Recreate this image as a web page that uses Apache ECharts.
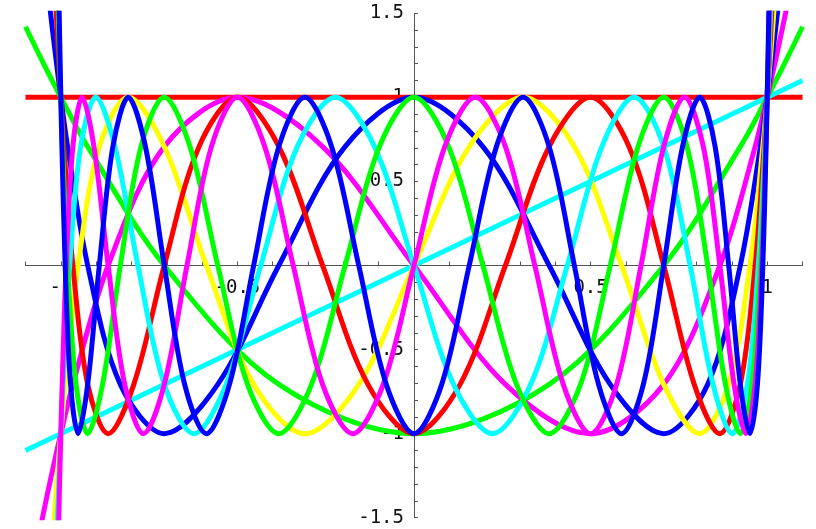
<!DOCTYPE html>
<html>
<head>
<meta charset="utf-8">
<script src="https://cdn.jsdelivr.net/npm/echarts@6/dist/echarts.min.js"></script>
<style>
  html, body { margin: 0; padding: 0; background: #fff; }
  #chart { width: 816px; height: 529px; }
</style>
</head>
<body>
<div id="chart"></div>
<script>
// curve points, T0 .. T10 (x ascending)
const t0x = [-1.1, 1.1];
const t0y = [1, 1];

const t1x = [-1.1, 1.1];
const t1y = [-1.1, 1.1];

const t2x = [-1.1, -1.05, -1, -0.9239, -0.7071, -0.3827, 0, 0.3827, 0.7071, 0.9239, 1, 1.05, 1.1];
const t2y = [1.42, 1.205, 1, 0.707, 0, -0.707, -1, -0.707, 0, 0.707, 1, 1.205, 1.42];

const t3x = [-1.0979, -1.0519, -1.0216,
  -1, -0.9659, -0.866, -0.7071, -0.5, -0.2588, 0, 0.2588, 0.5, 0.7071, 0.866, 0.9659, 1,
  1.0216, 1.0519, 1.0979];
const t3y = [-2, -1.5, -1.2,
  -1, -0.707, 0, 0.707, 1, 0.707, 0, -0.707, -1, -0.707, 0, 0.707, 1,
  1.2, 1.5, 2];

const t4x = [-1.0547, -1.0291, -1.0121,
  -1, -0.9808, -0.9239, -0.8315, -0.7071, -0.5556, -0.3827, -0.1951, 0,
  0.1951, 0.3827, 0.5556, 0.7071, 0.8315, 0.9239, 0.9808, 1,
  1.0121, 1.0291, 1.0547];
const t4y = [2, 1.5, 1.2,
  1, 0.707, 0, -0.707, -1, -0.707, 0, 0.707, 1,
  0.707, 0, -0.707, -1, -0.707, 0, 0.707, 1,
  1.2, 1.5, 2];

const t5x = [-1.0349, -1.0186, -1.0078,
  -1, -0.9877, -0.9511, -0.891, -0.809, -0.7071, -0.5878, -0.454, -0.309, -0.1564, 0,
  0.1564, 0.309, 0.454, 0.5878, 0.7071, 0.809, 0.891, 0.9511, 0.9877, 1,
  1.0078, 1.0186, 1.0349];
const t5y = [-2, -1.5, -1.2,
  -1, -0.707, 0, 0.707, 1, 0.707, 0, -0.707, -1, -0.707, 0,
  0.707, 1, 0.707, 0, -0.707, -1, -0.707, 0, 0.707, 1,
  1.2, 1.5, 2];

const t6x = [-1.0242, -1.0129, -1.0054,
  -1, -0.9914, -0.9659, -0.9239, -0.866, -0.7934, -0.7071, -0.6088, -0.5, -0.3827, -0.2588, -0.1305, 0,
  0.1305, 0.2588, 0.3827, 0.5, 0.6088, 0.7071, 0.7934, 0.866, 0.9239, 0.9659, 0.9914, 1,
  1.0054, 1.0129, 1.0242];
const t6y = [2, 1.5, 1.2,
  1, 0.707, 0, -0.707, -1, -0.707, 0, 0.707, 1, 0.707, 0, -0.707, -1,
  -0.707, 0, 0.707, 1, 0.707, 0, -0.707, -1, -0.707, 0, 0.707, 1,
  1.2, 1.5, 2];

const t7x = [-1.0178, -1.0095, -1.004,
  -1, -0.9937, -0.9749, -0.9439, -0.901, -0.8467, -0.7818, -0.7071, -0.6235, -0.532, -0.4339, -0.3303, -0.2225, -0.112, 0,
  0.112, 0.2225, 0.3303, 0.4339, 0.532, 0.6235, 0.7071, 0.7818, 0.8467, 0.901, 0.9439, 0.9749, 0.9937, 1,
  1.004, 1.0095, 1.0178];
const t7y = [-2, -1.5, -1.2,
  -1, -0.707, 0, 0.707, 1, 0.707, 0, -0.707, -1, -0.707, 0, 0.707, 1, 0.707, 0,
  -0.707, -1, -0.707, 0, 0.707, 1, 0.707, 0, -0.707, -1, -0.707, 0, 0.707, 1,
  1.2, 1.5, 2];

const t8x = [-1.0136, -1.0072, -1.003,
  -1, -0.9952, -0.9808, -0.9569, -0.9239, -0.8819, -0.8315, -0.773, -0.7071, -0.6344, -0.5556, -0.4714, -0.3827, -0.2903, -0.1951, -0.098, 0,
  0.098, 0.1951, 0.2903, 0.3827, 0.4714, 0.5556, 0.6344, 0.7071, 0.773, 0.8315, 0.8819, 0.9239, 0.9569, 0.9808, 0.9952, 1,
  1.003, 1.0072, 1.0136];
const t8y = [2, 1.5, 1.2,
  1, 0.707, 0, -0.707, -1, -0.707, 0, 0.707, 1, 0.707, 0, -0.707, -1, -0.707, 0, 0.707, 1,
  0.707, 0, -0.707, -1, -0.707, 0, 0.707, 1, 0.707, 0, -0.707, -1, -0.707, 0, 0.707, 1,
  1.2, 1.5, 2];

const t9x = [-1.0107, -1.0057, -1.0024,
  -1, -0.9962, -0.9848, -0.9659, -0.9397, -0.9063, -0.866, -0.8192, -0.766, -0.7071, -0.6428, -0.5736, -0.5, -0.4226, -0.342, -0.2588, -0.1736, -0.0872, 0,
  0.0872, 0.1736, 0.2588, 0.342, 0.4226, 0.5, 0.5736, 0.6428, 0.7071, 0.766, 0.8192, 0.866, 0.9063, 0.9397, 0.9659, 0.9848, 0.9962, 1,
  1.0024, 1.0057, 1.0107];
const t9y = [-2, -1.5, -1.2,
  -1, -0.707, 0, 0.707, 1, 0.707, 0, -0.707, -1, -0.707, 0, 0.707, 1, 0.707, 0, -0.707, -1, -0.707, 0,
  0.707, 1, 0.707, 0, -0.707, -1, -0.707, 0, 0.707, 1, 0.707, 0, -0.707, -1, -0.707, 0, 0.707, 1,
  1.2, 1.5, 2];

const t10x = [-1.0087, -1.0046, -1.0019,
  -1, -0.9969, -0.9877, -0.9724, -0.9511, -0.9239, -0.891, -0.8526, -0.809, -0.7604, -0.7071, -0.6494, -0.5878, -0.5225, -0.454, -0.3827, -0.309, -0.2334, -0.1564, -0.0785, 0,
  0.0785, 0.1564, 0.2334, 0.309, 0.3827, 0.454, 0.5225, 0.5878, 0.6494, 0.7071, 0.7604, 0.809, 0.8526, 0.891, 0.9239, 0.9511, 0.9724, 0.9877, 0.9969, 1,
  1.0019, 1.0046, 1.0087];
const t10y = [2, 1.5, 1.2,
  1, 0.707, 0, -0.707, -1, -0.707, 0, 0.707, 1, 0.707, 0, -0.707, -1, -0.707, 0, 0.707, 1, 0.707, 0, -0.707, -1,
  -0.707, 0, 0.707, 1, 0.707, 0, -0.707, -1, -0.707, 0, 0.707, 1, 0.707, 0, -0.707, -1, -0.707, 0, 0.707, 1,
  1.2, 1.5, 2];

const curveColors = ['#ff0000', '#00ffff', '#00ff00', '#ff00ff', '#0000ff', '#ffff00'];
const curves = [
  [t0x, t0y], [t1x, t1y], [t2x, t2y], [t3x, t3y], [t4x, t4y], [t5x, t5y],
  [t6x, t6y], [t7x, t7y], [t8x, t8y], [t9x, t9y], [t10x, t10y]
];

function toPoints(xs, ys) {
  return xs.map((x, i) => [x, ys[i]]);
}

// labels only at multiples of 0.5, never at 0
function halfLabel(v) {
  const r = Math.round(v * 10);
  if (r === 0 || r % 5 !== 0) return '';
  return String(r / 10);
}

const gridLeft = 25.5, gridRight = 13.5, gridTop = 13.3, gridBottom = 11.3;
const gridW = 816 - gridLeft - gridRight;
const gridH = 529 - gridTop - gridBottom;

const axisColor = '#555';
const labelStyle = {
  fontFamily: 'DejaVu Sans Mono',
  fontSize: 19,
  color: '#111',
  interval: 0,
  formatter: halfLabel
};

const series = curves.map((c, i) => ({
  type: 'line',
  data: toPoints(c[0], c[1]),
  symbol: 'none',
  showSymbol: false,
  smooth: 0.33,
  clip: true,
  silent: true,
  lineStyle: {width: 5, color: curveColors[i % 6]}
}));

// axes crossing in the middle: shift them in from the grid edges
const option = {
  animation: false,
  backgroundColor: '#fff',
  grid: {left: gridLeft, right: gridRight, top: gridTop, bottom: gridBottom, outerBoundsMode: 'none'},
  xAxis: {
    type: 'value',
    position: 'bottom',
    offset: -gridH / 2,
    min: -1.1,
    max: 1.1,
    interval: 0.1,
    axisLine: {onZero: false, lineStyle: {color: axisColor, width: 1}},
    axisTick: {show: true, inside: true, length: 4, lineStyle: {color: axisColor}},
    axisLabel: Object.assign({margin: 13, showMinLabel: true, showMaxLabel: true}, labelStyle),
    splitLine: {show: false}
  },
  yAxis: {
    type: 'value',
    position: 'left',
    offset: -gridW / 2,
    min: -1.5,
    max: 1.5,
    interval: 0.1,
    axisLine: {show: true, onZero: false, lineStyle: {color: axisColor, width: 1}},
    axisTick: {show: true, inside: true, length: 4, lineStyle: {color: axisColor}},
    axisLabel: Object.assign({margin: 10, showMinLabel: true, showMaxLabel: true}, labelStyle),
    splitLine: {show: false}
  },
  series: series
};

const chart = echarts.init(document.getElementById('chart'));
chart.setOption(option);
window.addEventListener('resize', function () {
  chart.resize();
});
</script>
</body>
</html>
